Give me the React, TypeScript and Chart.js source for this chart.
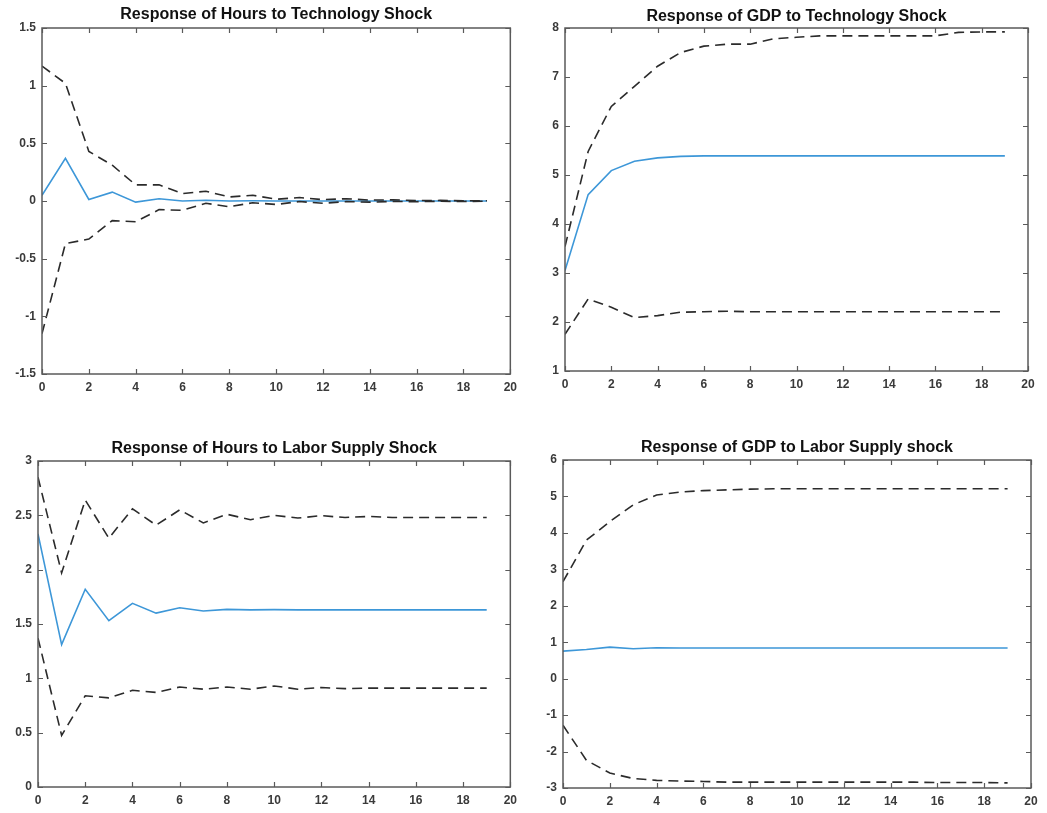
import React, { useEffect, useRef } from "react";
import { Chart, registerables } from "chart.js";

Chart.register(...registerables);

// ---- data ----
const horizons = [0, 1, 2, 3, 4, 5, 6, 7, 8, 9, 10, 11, 12, 13, 14, 15, 16, 17, 18, 19];
const xTickValues = [0, 2, 4, 6, 8, 10, 12, 14, 16, 18, 20];

const hoursTechIRF = [0.05, 0.37, 0.013, 0.077, -0.01, 0.02, 0.0, 0.007, 0.0, 0.002, 0.0, 0.0, 0.0, 0.0, 0.0, 0.0, 0.0, 0.0, 0.0, 0.0];
const hoursTechUpper = [1.17, 1.02, 0.43, 0.31, 0.14, 0.14, 0.065, 0.085, 0.035, 0.05, 0.015, 0.03, 0.012, 0.02, 0.008, 0.01, 0.004, 0.005, 0.002, 0.002];
const hoursTechLower = [-1.15, -0.37, -0.33, -0.17, -0.18, -0.075, -0.08, -0.02, -0.05, -0.015, -0.03, -0.005, -0.02, -0.005, -0.01, -0.004, -0.006, -0.002, -0.004, -0.001];
const hoursTechYTicks = [-1.5, -1, -0.5, 0, 0.5, 1, 1.5];

const gdpTechIRF = [3.05, 4.6, 5.09, 5.28, 5.35, 5.38, 5.39, 5.39, 5.39, 5.39, 5.39, 5.39, 5.39, 5.39, 5.39, 5.39, 5.39, 5.39, 5.39, 5.39];
const gdpTechUpper = [3.54, 5.48, 6.4, 6.81, 7.22, 7.5, 7.63, 7.67, 7.67, 7.78, 7.81, 7.84, 7.84, 7.84, 7.84, 7.84, 7.84, 7.91, 7.92, 7.92];
const gdpTechLower = [1.75, 2.47, 2.3, 2.09, 2.13, 2.2, 2.21, 2.22, 2.21, 2.21, 2.21, 2.21, 2.21, 2.21, 2.21, 2.21, 2.21, 2.21, 2.21, 2.21];
const gdpTechYTicks = [1, 2, 3, 4, 5, 6, 7, 8];

const hoursLaborIRF = [2.33, 1.31, 1.82, 1.53, 1.69, 1.6, 1.65, 1.62, 1.635, 1.63, 1.632, 1.63, 1.63, 1.63, 1.63, 1.63, 1.63, 1.63, 1.63, 1.63];
const hoursLaborUpper = [2.85, 1.97, 2.64, 2.29, 2.56, 2.41, 2.55, 2.43, 2.51, 2.46, 2.5, 2.475, 2.497, 2.48, 2.49, 2.48, 2.48, 2.48, 2.48, 2.48];
const hoursLaborLower = [1.37, 0.475, 0.84, 0.82, 0.89, 0.87, 0.92, 0.9, 0.92, 0.9, 0.93, 0.9, 0.915, 0.905, 0.91, 0.91, 0.91, 0.91, 0.91, 0.91];
const hoursLaborYTicks = [0, 0.5, 1, 1.5, 2, 2.5, 3];

const gdpLaborIRF = [0.755, 0.8, 0.865, 0.82, 0.85, 0.84, 0.84, 0.84, 0.84, 0.84, 0.84, 0.84, 0.84, 0.84, 0.84, 0.84, 0.84, 0.84, 0.84, 0.84];
const gdpLaborUpper = [2.66, 3.8, 4.31, 4.77, 5.04, 5.12, 5.16, 5.18, 5.2, 5.21, 5.21, 5.21, 5.21, 5.21, 5.21, 5.21, 5.21, 5.21, 5.21, 5.21];
const gdpLaborLower = [-1.28, -2.24, -2.59, -2.74, -2.79, -2.81, -2.82, -2.84, -2.84, -2.84, -2.84, -2.84, -2.84, -2.84, -2.84, -2.84, -2.85, -2.85, -2.85, -2.86];
const gdpLaborYTicks = [-3, -2, -1, 0, 1, 2, 3, 4, 5, 6];

const titles = [
  "Response of Hours to Technology Shock",
  "Response of GDP to Technology Shock",
  "Response of Hours to Labor Supply Shock",
  "Response of GDP to Labor Supply shock",
];

// ---- styling / layout ----
const FONT = "'Liberation Sans', Arial, Helvetica, sans-serif";
const BLUE = "#3d97d8";
const DASH = "#2b2b2b";
const BOX = "#5a5a5a";
const TICK_TEXT = "#3a3a3a";

type Panel = {
  title: string;
  irf: number[];
  upper: number[];
  lower: number[];
  yTicks: number[];
  left: number;
  top: number;
  width: number;
  height: number;
  yAxisWidth: number;
  xAxisHeight: number;
  padRight: number;
  titleTop: number;
  titleBottom: number;
};

const panels: Panel[] = [
  { title: titles[0], irf: hoursTechIRF, upper: hoursTechUpper, lower: hoursTechLower, yTicks: hoursTechYTicks,
    left: 0, top: 0, width: 523, height: 400, yAxisWidth: 42, xAxisHeight: 26, padRight: 11, titleTop: 6, titleBottom: 4 },
  { title: titles[1], irf: gdpTechIRF, upper: gdpTechUpper, lower: gdpTechLower, yTicks: gdpTechYTicks,
    left: 523, top: 0, width: 524, height: 400, yAxisWidth: 42, xAxisHeight: 29, padRight: 19, titleTop: 8, titleBottom: 2 },
  { title: titles[2], irf: hoursLaborIRF, upper: hoursLaborUpper, lower: hoursLaborLower, yTicks: hoursLaborYTicks,
    left: 0, top: 400, width: 523, height: 413, yAxisWidth: 38, xAxisHeight: 26, padRight: 11, titleTop: 40, titleBottom: 3 },
  { title: titles[3], irf: gdpLaborIRF, upper: gdpLaborUpper, lower: gdpLaborLower, yTicks: gdpLaborYTicks,
    left: 523, top: 400, width: 524, height: 413, yAxisWidth: 40, xAxisHeight: 25, padRight: 16, titleTop: 39, titleBottom: 3 },
];

const boxPlugin = {
  id: "matlabBox",
  afterDatasetsDraw(chart: any) {
    const { ctx, chartArea } = chart;
    const { left, right, top, bottom } = chartArea;
    const xs = chart.scales.x;
    const ys = chart.scales.y;
    const TL = 5;
    ctx.save();
    ctx.strokeStyle = BOX;
    ctx.lineWidth = 1.5;
    ctx.setLineDash([]);
    ctx.strokeRect(left, top, right - left, bottom - top);
    ctx.beginPath();
    xs.ticks.forEach((t: any) => {
      const px = Math.round(xs.getPixelForValue(t.value)) + 0.5;
      ctx.moveTo(px, bottom);
      ctx.lineTo(px, bottom - TL);
      ctx.moveTo(px, top);
      ctx.lineTo(px, top + TL);
    });
    ys.ticks.forEach((t: any) => {
      const py = Math.round(ys.getPixelForValue(t.value)) + 0.5;
      ctx.moveTo(left, py);
      ctx.lineTo(left + TL, py);
      ctx.moveTo(right, py);
      ctx.lineTo(right - TL, py);
    });
    ctx.lineWidth = 1.2;
    ctx.stroke();
    ctx.restore();
  },
};

function toPoints(values: number[]) {
  return horizons.map((h, i) => ({ x: h, y: values[i] }));
}

function IRFPanel({ p }: { p: Panel }) {
  const ref = useRef<HTMLCanvasElement | null>(null);
  useEffect(() => {
    if (!ref.current) return;
    const tickFont = { family: FONT, size: 12, weight: "bold" as const };
    const chart = new Chart(ref.current, {
      type: "line",
      data: {
        datasets: [
          { label: "upper", data: toPoints(p.upper), borderColor: DASH, borderWidth: 1.6, borderDash: [10, 6], pointRadius: 0, tension: 0, fill: false },
          { label: "lower", data: toPoints(p.lower), borderColor: DASH, borderWidth: 1.6, borderDash: [10, 6], pointRadius: 0, tension: 0, fill: false },
          { label: "irf", data: toPoints(p.irf), borderColor: BLUE, borderWidth: 1.6, pointRadius: 0, tension: 0, fill: false },
        ],
      },
      options: {
        animation: false,
        responsive: false,
        maintainAspectRatio: false,
        devicePixelRatio: 1,
        layout: { autoPadding: false, padding: { left: 0, right: p.padRight, top: 0, bottom: 0 } } as any,
        plugins: {
          legend: { display: false },
          tooltip: { enabled: false },
          title: {
            display: true,
            text: p.title,
            fullSize: false,
            color: "#111",
            font: { family: FONT, size: 16, weight: "bold", lineHeight: "18px" } as any,
            padding: { top: p.titleTop, bottom: p.titleBottom },
          },
        },
        scales: {
          x: {
            type: "linear",
            min: 0,
            max: 20,
            afterBuildTicks: (s: any) => { s.ticks = xTickValues.map((v) => ({ value: v })); },
            afterFit: (s: any) => { s.height = p.xAxisHeight; },
            grid: { display: false, drawTicks: false },
            border: { display: false },
            ticks: { padding: 6, color: TICK_TEXT, font: tickFont, maxRotation: 0, autoSkip: false, callback: (v: any) => String(v) },
          },
          y: {
            type: "linear",
            min: p.yTicks[0],
            max: p.yTicks[p.yTicks.length - 1],
            afterBuildTicks: (s: any) => { s.ticks = p.yTicks.map((v) => ({ value: v })); },
            afterFit: (s: any) => { s.width = p.yAxisWidth; },
            grid: { display: false, drawTicks: false },
            border: { display: false },
            ticks: { padding: 6, color: TICK_TEXT, font: tickFont, autoSkip: false, callback: (v: any) => String(v) },
          },
        },
      },
      plugins: [boxPlugin],
    } as any);
    return () => chart.destroy();
  }, [p]);
  return (
    <canvas
      ref={ref}
      width={p.width}
      height={p.height}
      style={{ position: "absolute", left: p.left, top: p.top, width: p.width, height: p.height }}
    />
  );
}

export default function App() {
  return (
    <div style={{ position: "fixed", left: 0, top: 0, width: 1047, height: 813, background: "#fff" }}>
      {panels.map((p, i) => (
        <IRFPanel key={i} p={p} />
      ))}
    </div>
  );
}
